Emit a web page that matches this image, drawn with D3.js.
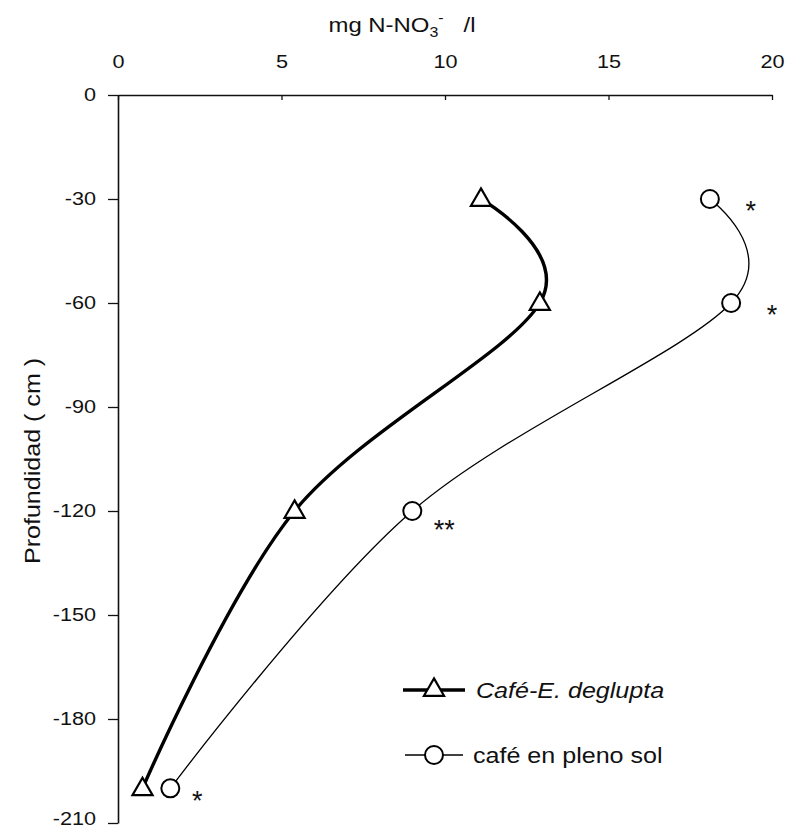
<!DOCTYPE html>
<html>
<head>
<meta charset="utf-8">
<script src="https://cdn.jsdelivr.net/npm/d3@7"></script>
<style>
  body { margin: 0; background: #fff; }
  svg text { font-family: "Liberation Sans", Arial, sans-serif; fill: #111; }
</style>
</head>
<body>
<div id="chart"></div>
<script>
// depth of each sample (cm)
const depths = [-30, -60, -120, -200];
// mg N-NO3- /l per series
const deglupta = [11.1, 12.9, 5.4, 0.75];
const plenoSol = [18.1, 18.75, 9.0, 1.6];
const marks = ["*", "*", "**", "*"];
const seriesNames = ["Café-E. deglupta", "café en pleno sol"];
const xTicks = [0, 5, 10, 15, 20];
const yTicks = [0, -30, -60, -90, -120, -150, -180, -210];

const W = 785, H = 833;
const plot = { left: 118, right: 772, top: 95, bottom: 823 };
const stretch = 1.14; // the scanned lettering is a bit wide

const svg = d3.select("#chart").append("svg")
  .attr("width", W).attr("height", H);

const x = d3.scaleLinear().domain([0, 20]).range([plot.left, plot.right]);
const y = d3.scaleLinear().domain([0, -210]).range([plot.top, plot.bottom]);

// top axis, ticks pointing down into the plot
const xAxis = svg.append("g")
  .attr("transform", `translate(0,${plot.top})`)
  .call(d3.axisTop(x).tickValues(xTicks).tickSize(-5).tickSizeOuter(0).tickPadding(27));
xAxis.select(".domain").attr("stroke", "#111").attr("stroke-width", 1.6);
xAxis.selectAll(".tick line").attr("stroke", "#111").attr("stroke-width", 1.3);
xAxis.selectAll("text")
  .attr("font-size", 19).attr("fill", "#111")
  .attr("transform", `scale(${stretch},1)`);

const yAxis = svg.append("g")
  .attr("transform", `translate(${plot.left},0)`)
  .call(d3.axisLeft(y).tickValues(yTicks).tickSize(10).tickSizeOuter(0)
    .tickFormat(d => String(d)));
yAxis.select(".domain").attr("stroke", "#111").attr("stroke-width", 1.6);
yAxis.selectAll(".tick line").attr("stroke", "#111").attr("stroke-width", 1.3);
yAxis.selectAll("text")
  .attr("font-size", 19).attr("fill", "#111")
  .attr("x", -22 / stretch).attr("dy", "0.3em")
  .attr("transform", `scale(${stretch},1)`);
// last label sits slightly above its tick
yAxis.selectAll(".tick").filter(d => d === -210).select("text").attr("dy", "0.1em");

// axis titles
const t = svg.append("text")
  .attr("transform", `translate(402,32) scale(${stretch},1)`)
  .attr("text-anchor", "middle")
  .attr("font-size", 21);
t.append("tspan").text("mg N-NO");
t.append("tspan").attr("font-size", 14).attr("dy", 5).text("3");
t.append("tspan").attr("font-size", 14).attr("dy", -14).text("-");
t.append("tspan").attr("dy", 9).text("\u00A0\u00A0\u00A0/l");

svg.append("text")
  .attr("transform", `translate(40,461) rotate(-90) scale(${stretch},1)`)
  .attr("text-anchor", "middle")
  .attr("font-size", 22)
  .text("Profundidad ( cm )");

const curve = d3.curveCatmullRom.alpha(0);
const line = vals => d3.line()
  .x(i => x(vals[i]))
  .y(i => y(depths[i]))
  .curve(curve)(d3.range(depths.length));

const triangle = d3.symbol().type(d3.symbolTriangle).size(175);

svg.append("path").attr("d", line(deglupta))
  .attr("fill", "none").attr("stroke", "#000").attr("stroke-width", 3.4);
svg.append("path").attr("d", line(plenoSol))
  .attr("fill", "none").attr("stroke", "#000").attr("stroke-width", 1.3);

svg.selectAll(".tri").data(deglupta).join("path")
  .attr("class", "tri")
  .attr("transform", (d, i) => `translate(${x(d)},${y(depths[i]) + 1})`)
  .attr("d", triangle)
  .attr("fill", "#fff").attr("stroke", "#000").attr("stroke-width", 2.2);

svg.selectAll(".circ").data(plenoSol).join("circle")
  .attr("class", "circ")
  .attr("cx", d => x(d)).attr("cy", (d, i) => y(depths[i]))
  .attr("r", 9)
  .attr("fill", "#fff").attr("stroke", "#000").attr("stroke-width", 2);

// significance marks next to the circles (offset of the mark centre)
const markOffset = [[41, 6], [41, 6], [32, 13], [27, 7]];
svg.selectAll(".mark").data(marks).join("text")
  .attr("class", "mark")
  .attr("x", (d, i) => x(plenoSol[i]) + markOffset[i][0])
  .attr("y", (d, i) => y(depths[i]) + markOffset[i][1] + 15)
  .attr("text-anchor", "middle")
  .attr("font-size", 27)
  .text(d => d);

// legend
const legend = svg.append("g").attr("transform", "translate(403,690)");
legend.append("line").attr("x1", 0).attr("x2", 62)
  .attr("stroke", "#000").attr("stroke-width", 3.4);
legend.append("path").attr("transform", "translate(31,0)").attr("d", triangle)
  .attr("fill", "#fff").attr("stroke", "#000").attr("stroke-width", 2.2);
legend.append("text")
  .attr("transform", `translate(73,8) scale(${stretch},1)`)
  .attr("font-size", 22).attr("font-style", "italic").text(seriesNames[0]);

legend.append("line").attr("x1", 2).attr("x2", 60).attr("y1", 65).attr("y2", 65)
  .attr("stroke", "#000").attr("stroke-width", 1.3);
legend.append("circle").attr("cx", 31).attr("cy", 65).attr("r", 9)
  .attr("fill", "#fff").attr("stroke", "#000").attr("stroke-width", 2);
legend.append("text")
  .attr("transform", `translate(70,73) scale(${stretch},1)`)
  .attr("font-size", 22).text(seriesNames[1]);
</script>
</body>
</html>
